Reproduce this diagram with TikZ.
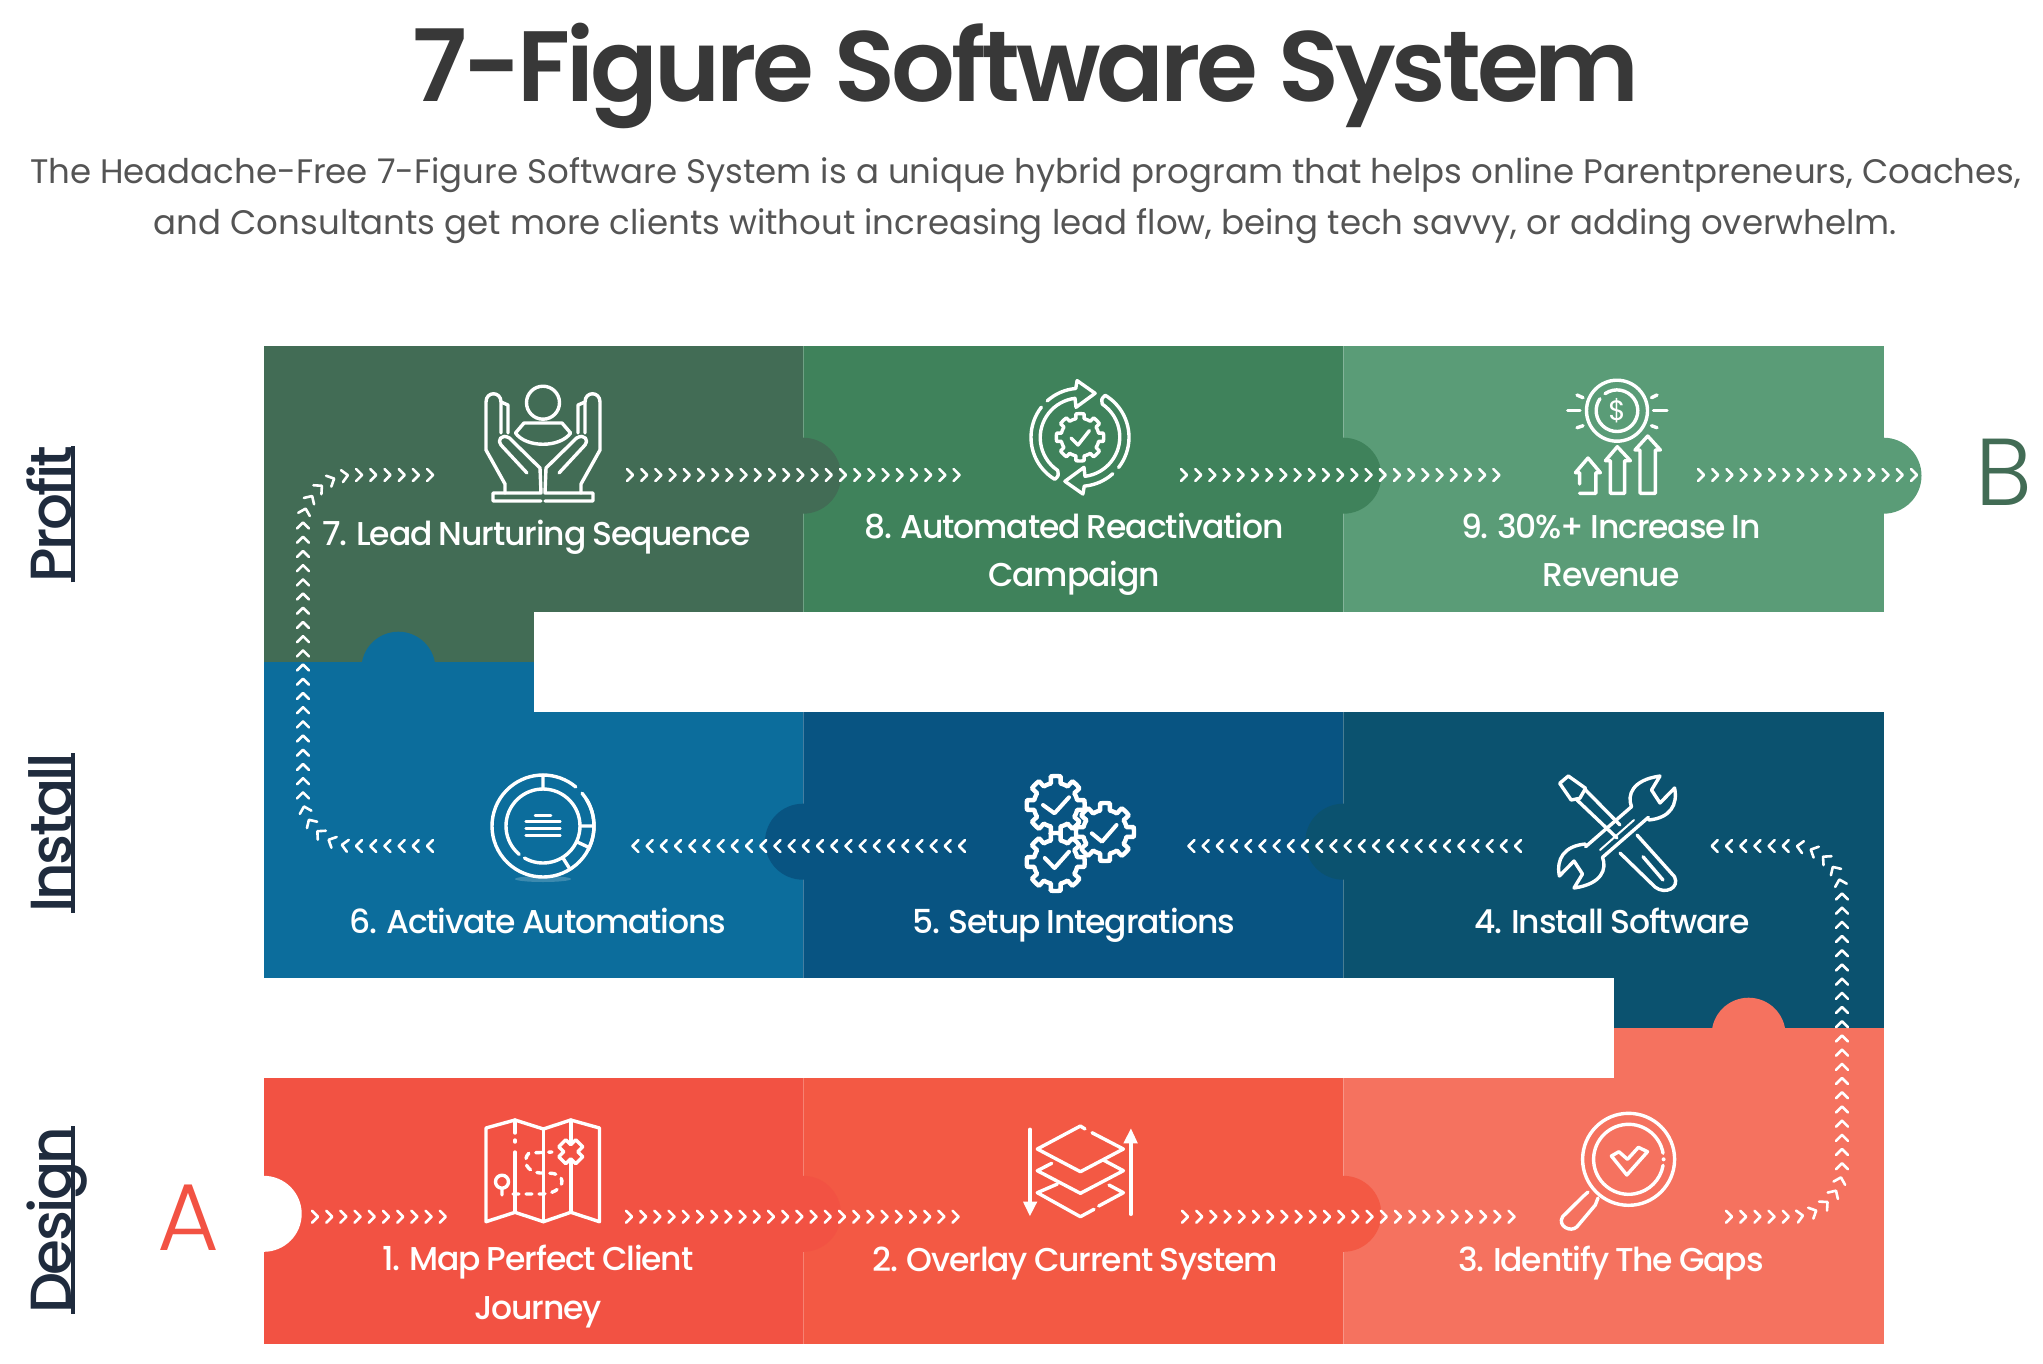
\documentclass[tikz,border=0pt]{standalone}
\usepackage{fontspec}
\usetikzlibrary{decorations.markings}
\setmainfont{Poppins}
\newfontfamily\titlefont[LetterSpace=-4]{Poppins SemiBold}
\newfontfamily\stepfont[LetterSpace=-3.4,WordSpace=0.8]{Poppins Medium}
\newfontfamily\rowfont[LetterSpace=-4.5]{Poppins Medium}
\newfontfamily\lightfont{Poppins Light}
\definecolor{profitA}{HTML}{426C55}
\definecolor{profitB}{HTML}{3F825B}
\definecolor{profitC}{HTML}{5A9C77}
\definecolor{installA}{HTML}{0C6D9C}
\definecolor{installB}{HTML}{085482}
\definecolor{installC}{HTML}{0B526F}
\definecolor{designA}{HTML}{F25243}
\definecolor{designB}{HTML}{F35944}
\definecolor{designC}{HTML}{F5725F}
\definecolor{navy}{HTML}{1F2B3D}
\newcommand{\rowul}[1]{\setbox0=\hbox{#1}\rlap{\rule[-4pt]{\wd0}{4pt}}\box0}
\newcommand{\gearicon}[6]{\begin{scope}[shift={(#1,#2)},y=1pt]
\draw[iconline,#6] plot[domain=0:360,samples=145] (\x:{#3+(#4-#3)*(cos(#5*\x)>0)}) -- cycle;
\end{scope}}
\tikzset{
  x=1pt,y=-1pt,
  iconline/.style={draw=white,line width=3.4pt,line cap=round,line join=round},
  chain/.style={decoration={markings,mark=between positions 0 and 1 step 14.2pt with
    {\draw[sharp corners,white,line width=2.6pt,line cap=round,line join=round] (-3,-6) -- (3,0) -- (-3,6);}},
    postaction={decorate}},
  tasklabel/.style={text=white,align=center,anchor=base,
    font=\stepfont\fontsize{33}{48.3}\selectfont},
  rowlabel/.style={text=navy,rotate=90,anchor=base,font=\rowfont\fontsize{58}{60}\selectfont},
  seam/.style={draw=white,opacity=.25,line width=1pt}
}
\begin{document}
\begin{tikzpicture}
\useasboundingbox (0,0) rectangle (2043,1363);
% tiles
\fill[profitA] (263.7,346) rectangle (803,611.7);
\fill[profitA] (263.7,611.7) rectangle (533.5,661.7);
\fill[profitB] (803,346) rectangle (1343.3,611.7);
\fill[profitC] (1343.3,346) rectangle (1883.5,611.7);
\fill[installA] (263.7,712) rectangle (803,977.7);
\fill[installA] (263.7,661.7) rectangle (533.5,712);
\fill[installB] (803,712) rectangle (1343.3,977.7);
\fill[installC] (1343.3,712) rectangle (1883.5,977.7);
\fill[installC] (1613.7,977.7) rectangle (1883.5,1027.7);
\fill[designA] (263.7,1078) rectangle (803,1343.7);
\fill[designB] (803,1078) rectangle (1343.3,1343.7);
\fill[designC] (1343.3,1078) rectangle (1883.5,1343.7);
\fill[designC] (1613.7,1027.7) rectangle (1883.5,1078);
\foreach \sx in {803,1343.3} {
  \draw[seam] (\sx,346) -- (\sx,611.7);
  \draw[seam] (\sx,712) -- (\sx,977.7);
  \draw[seam] (\sx,1078) -- (\sx,1343.7);
}
% tabs
\fill[profitA] (803,475.7) circle[radius=38pt];
\fill[profitB] (1343.3,475.7) circle[radius=38pt];
\fill[profitC] (1883.5,475.7) circle[radius=38pt];
\fill[installB] (803,841.7) circle[radius=38pt];
\fill[installC] (1343.3,841.7) circle[radius=38pt];
\fill[white] (263.7,1213.8) circle[radius=38pt];
\fill[designA] (803,1213.8) circle[radius=38pt];
\fill[designB] (1343.3,1213.8) circle[radius=38pt];
\fill[installA] (398.4,668.7) circle[radius=37pt];
\fill[designC] (1748.6,1034.7) circle[radius=37pt];
% header
\node[anchor=base,text=black!78,font=\titlefont\fontsize{100}{100}\selectfont] (title) at (1026,101.7) {7-Figure Software System};
\node[anchor=base,text=black!67,font=\fontsize{34}{34}\selectfont] (introA) at (1025.5,183) {The Headache-Free 7-Figure Software System is a unique hybrid program that helps online Parentpreneurs, Coaches,};
\node[anchor=base,text=black!67,font=\fontsize{34}{34}\selectfont] (introB) at (1025.5,234) {and Consultants get more clients without increasing lead flow, being tech savvy, or adding overwhelm.};
% row names and ends
\node[rowlabel] (profit) at (71,514) {\rowul{Profit}};
\node[rowlabel] (install) at (71,833) {\rowul{Install}};
\node[rowlabel] (design) at (71,1220) {\rowul{Design}};
\node[anchor=base,text=designA,font=\lightfont\fontsize{95}{95}\selectfont] (startA) at (188,1250.7) {A};
\node[anchor=base,text=profitA,font=\lightfont\fontsize{95}{95}\selectfont] (endB) at (2004,505) {B};
% step labels
\node[tasklabel] (step1) at (538,1319) {1. Map Perfect Client\\Journey};
\node[tasklabel] (step2) at (1075,1271) {2. Overlay Current System};
\node[tasklabel] (step3) at (1611,1271) {3. Identify The Gaps};
\node[tasklabel] (step4) at (1612,933.3) {4. Install Software};
\node[tasklabel] (step5) at (1074,933.3) {5. Setup Integrations};
\node[tasklabel] (step6) at (538,933.3) {6. Activate Automations};
\node[tasklabel] (step7) at (536.5,545) {7. Lead Nurturing Sequence};
\node[tasklabel] (step8) at (1074,586.7) {8. Automated Reactivation\\Campaign};
\node[tasklabel] (step9) at (1611,586.7) {9. 30\%+ Increase In\\Revenue};
% chevron runs
\coordinate (a1) at (315,1216.7);   \coordinate (a2) at (450,1216.7);
\coordinate (b1) at (629,1216.7);   \coordinate (b2) at (962,1216.7);
\coordinate (c1) at (1185,1216.7);  \coordinate (c2) at (1519,1216.7);
\coordinate (d1) at (1729,1216.7);  \coordinate (d2) at (1842,1216.7);
\coordinate (d3) at (1842,846);     \coordinate (d4) at (1713,846);
\coordinate (e1) at (1518,846);     \coordinate (e2) at (1184,846);
\coordinate (f1) at (962,846);      \coordinate (f2) at (628,846);
\coordinate (g1) at (430,846);      \coordinate (g2) at (303,846);
\coordinate (g3) at (303,475);      \coordinate (g4) at (441,475);
\coordinate (h1) at (630,475);      \coordinate (h2) at (964,475);
\coordinate (i1) at (1184,475);     \coordinate (i2) at (1504,475);
\coordinate (j1) at (1701,475);     \coordinate (j2) at (1922,475);
\path[chain] (a1) -- (a2);
\path[chain] (b1) -- (b2);
\path[chain] (c1) -- (c2);
\path[chain,rounded corners=50pt] (d1) -- (d2) -- (d3) -- (d4);
\path[chain] (e1) -- (e2);
\path[chain] (f1) -- (f2);
\path[chain,rounded corners=50pt] (g1) -- (g2) -- (g3) -- (g4);
\path[chain] (h1) -- (h2);
\path[chain] (i1) -- (i2);
\path[chain] (j1) -- (j2);
% map icon
\draw[iconline] (486,1128) -- (515,1120) -- (543.4,1129) -- (570.8,1120) -- (599.5,1128) -- (599.5,1221.7) -- (570.8,1212.3) -- (543.4,1221.7) -- (515,1212.3) -- (486,1221.7) -- cycle;
\draw[iconline] (515,1120) -- (515,1133) (515,1140) -- (515,1142) (515,1152) -- (515,1212.3);
\draw[iconline] (543.4,1129) -- (543.4,1221.7);
\draw[iconline] (570.8,1120) -- (570.8,1212.3);
\draw[iconline,fill=designA] (558.8,1146.7) -- (565.8,1139.7) -- (570.8,1144.7) -- (575.8,1139.7) -- (582.8,1146.7) -- (577.8,1151.7) -- (582.8,1156.7) -- (575.8,1163.7) -- (570.8,1158.7) -- (565.8,1163.7) -- (558.8,1156.7) -- (563.8,1151.7) -- cycle;
\draw[iconline] (502,1181.7) circle[radius=6.5pt] (502,1188) -- (502,1195);
\draw[iconline,dash pattern=on 6pt off 7pt] (513,1194) -- (542,1194) .. controls (556,1194) and (565,1185) .. (561,1178) .. controls (558,1173) and (552,1173) .. (540,1173) .. controls (526,1172) and (522,1160) .. (529,1153) -- (552,1152);
% layers icon
\draw[iconline] (1085,1129) -- (1080.4,1126) -- (1037.3,1149) -- (1080.4,1171.7) -- (1123.4,1149) -- (1092,1132.7);
\draw[iconline] (1051.7,1163.3) -- (1037.3,1170.7) -- (1080.4,1193.3) -- (1123.4,1170.7) -- (1103.3,1160);
\draw[iconline] (1057.4,1184) -- (1037.3,1192.7) -- (1080.4,1216.7) -- (1094,1209.3);
\draw[iconline] (1098.7,1206) -- (1123.4,1192.7) -- (1109,1185);
\draw[iconline] (1029.9,1129.3) -- (1029.9,1210);
\fill[white] (1023,1201.7) -- (1037.3,1201.7) -- (1029.9,1216) -- cycle;
\draw[iconline] (1130.9,1214.3) -- (1130.9,1135);
\fill[white] (1123.4,1143.3) -- (1137.8,1143.3) -- (1130.9,1128.5) -- cycle;
% magnifier icon
\begin{scope}[shift={(1628.6,1159.3)},y=1pt]
\draw[iconline] (0,0) circle[radius=46pt];
\draw[iconline] (10:35) arc[start angle=10,end angle=350,radius=35];
\fill[white] (35,0) circle[radius=2pt];
\end{scope}
\draw[iconline] (1611.4,1156) -- (1618.9,1151.7) -- (1627.5,1159.3) -- (1638.4,1147.3) -- (1647.5,1151.7) -- (1626.8,1175) -- cycle;
\draw[iconline] (1588,1192) -- (1582.7,1196.7) -- (1562.6,1216.7) .. controls (1557,1226) and (1571,1233) .. (1577,1226.7) -- (1595.3,1205) -- (1598,1198);
% tools icon
\draw[iconline] (1568.3,776) -- (1559.7,783.3) -- (1571.2,800) -- (1579.8,798.3) -- (1585.6,788.3) -- cycle;
\draw[iconline] (1577,800) -- (1617,838) (1585.6,790) -- (1620,825);
\draw[iconline] (1637,835) -- (1674.5,876.7) .. controls (1680,888) and (1665,895) .. (1655,887) -- (1620,853);
\draw[iconline] (1643,856.7) -- (1663,880);
\foreach \rot in {0,180} {
\begin{scope}[rotate around={\rot:(1617,832)}]
\draw[iconline] (1585.6,846.7) -- (1631.5,806.7) .. controls (1627,795) and (1632,780) .. (1660,776) -- (1651.5,790) -- (1660,803) -- (1674.6,788) .. controls (1678,805) and (1670,818) .. (1648.7,820);
\end{scope}
}
\draw[iconline,line width=2pt] (1600,850) -- (1634,820);
% gears icon
\gearicon{1105}{832}{22}{29}{8}{line width=4.4pt}
\gearicon{1055.7}{805}{22}{29}{8}{line width=4.4pt,fill=installB}
\gearicon{1055.7}{862}{22}{29}{8}{line width=4.4pt,fill=installB}
\draw[iconline,line width=4pt] (1043,805) -- (1054.5,813.3) -- (1069,797.3);
\draw[iconline,line width=4pt] (1044.8,858) -- (1054.5,868) -- (1069,851.7);
\draw[iconline,line width=4pt] (1091.8,833.3) -- (1102,841.7) -- (1116.5,825);
% donut icon
\begin{scope}[shift={(543,826)},y=1pt]
\draw[iconline] (0,0) ++(40:51) arc[start angle=40,end angle=-310,radius=51];
\draw[iconline] (32:51) arc[start angle=32,end angle=-28,radius=51];
\draw[iconline] (230:37) arc[start angle=230,end angle=-120,radius=37];
\draw[iconline] (90:37) -- (90:51) (0:37) -- (0:51) (-25:37) -- (-25:51) (-58:37) -- (-58:51);
\fill[white,opacity=.2] (0,-53) ellipse[x radius=28pt,y radius=3pt];
\end{scope}
\draw[iconline,line width=2.5pt] (535,815.7) -- (551,815.7) (525.7,821.7) -- (560.4,821.7) (525.7,828.3) -- (560.4,828.3) (525.7,835.7) -- (560.4,835.7);
% hands icon
\draw[iconline] (543,402.7) circle[radius=16.5pt];
\draw[iconline] (524,423) -- (562,423) -- (570.6,433) .. controls (560,448) and (526,448) .. (515.5,433) -- cycle;
\foreach \flip in {1,-1} {
\begin{scope}[shift={(543,0)},xscale=\flip]
\draw[iconline] (-2,501) -- (-50,501) -- (-50,493) -- (-2,493) -- (-3,468) -- (-33.6,438) .. controls (-42,433) and (-46,441) .. (-42,445) -- (-16,473);
\draw[iconline] (-38,493) -- (-38,484) -- (-57,450) -- (-57,402) .. controls (-57,391) and (-42,391) .. (-42,402) -- (-42,433);
\draw[iconline] (-42,402) -- (-35,405) -- (-35,433);
\end{scope}
}
% cycle icon
\foreach \rot in {0,180} {
\begin{scope}[shift={(1080,437.3)},y=1pt,rotate=\rot]
\draw[iconline] (132:49) arc[start angle=132,end angle=95,radius=49] -- (-2.9,56.7) -- (15.1,44) -- (-4,30) -- (-5,39) arc[start angle=97,end angle=236,radius=39.6] .. controls (241:44) .. (239:49) arc[start angle=239,end angle=142,radius=49];
\end{scope}
}
\gearicon{1080}{437.3}{19}{23.7}{8}{}
\draw[iconline] (1071,438) -- (1078,445) -- (1089.4,430.6);
% revenue icon
\draw[iconline] (1617,410.7) circle[radius=30.5pt];
\begin{scope}[shift={(1617,410.7)},y=1pt]
\draw[iconline] (125:20.8) arc[start angle=125,end angle=-215,radius=20.8];
\end{scope}
\node[text=white,font=\fontsize{28}{28}\selectfont] (coin) at (1617,410.7) {\$};
\draw[iconline] (1567.7,410.7) -- (1580,410.7) (1653.5,410.7) -- (1667,410.7);
\draw[iconline] (1577,395) -- (1583,397.7) (1577,427.7) -- (1583,425.7) (1651.5,397.7) -- (1657,395) (1651.5,425.7) -- (1657,427.7);
\draw[iconline] (1579.6,484) -- (1579.6,472.7) -- (1575.4,472.7) -- (1588,458) -- (1600.4,472.7) -- (1595.8,472.7) -- (1595.8,493.3) -- (1579.6,493.3);
\draw[iconline] (1610.4,493.3) -- (1610.4,460.7) -- (1605.4,460.7) -- (1617.3,446.7) -- (1630.4,460.7) -- (1624.6,460.7) -- (1624.6,493.3) -- cycle;
\draw[iconline] (1640,493.3) -- (1640,450) -- (1635,450) -- (1647.7,436) -- (1660.4,450) -- (1655.4,450) -- (1655.4,493.3) -- cycle;
\end{tikzpicture}
\end{document}
